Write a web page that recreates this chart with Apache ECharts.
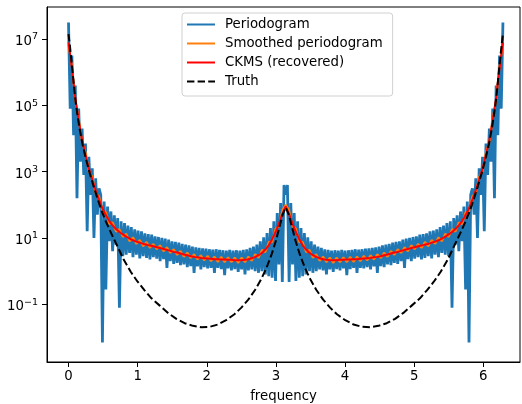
<!DOCTYPE html>
<html>
<head>
<meta charset="utf-8">
<script src="https://cdn.jsdelivr.net/npm/echarts@6/dist/echarts.min.js"></script>
<style>
  html, body { margin: 0; padding: 0; background: #fff; }
  #chart { width: 522px; height: 404px; }
</style>
</head>
<body>
<div id="chart"></div>
<script>
// all y values are log10 of the power
var periodogramLog10 = [
  7.50, 4.90, 6.50, 4.10, 5.60, 2.20, 4.90, 3.30, 4.30, 2.90,
  3.85, 1.20, 3.45, 2.30, 3.10, 1.00, 2.80, 1.70, 2.50, 2.30,
  -2.15, 2.10, -0.55, 1.95, 0.90, 1.80, 0.60, 1.68, 0.80, 1.60,
  -1.10, 1.50, 0.45, 1.45, 0.50, 1.37, 0.55, 1.33, 0.42, 1.26,
  0.50, 1.22, 0.38, 1.20, 0.45, 1.14, 0.40, 1.12, 0.35, 1.10,
  0.42, 1.05, 0.38, 1.03, 0.30, 1.00, 0.36, 0.98, 0.10, 0.95,
  0.30, 0.90, 0.22, 0.88, 0.25, 0.86, 0.18, 0.82, 0.20, 0.80,
  0.12, 0.78, 0.15, 0.74, -0.05, 0.72, 0.14, 0.70, 0.05, 0.69,
  0.12, 0.68, 0.08, 0.66, 0.10, 0.65, -0.05, 0.66, 0.10, 0.64,
  0.06, 0.63, -0.12, 0.62, 0.08, 0.64, 0.02, 0.62, 0.06, 0.63,
  -0.02, 0.62, 0.05, 0.64, -0.10, 0.66, 0.02, 0.70, 0.05, 0.74,
  0.00, 0.80, -0.05, 0.90, 0.00, 1.02, -0.10, 1.15, -0.15, 1.30,
  -0.20, 1.50, -0.30, 1.75, 0.20, 2.05, -0.33, 2.60, 2.30,
  2.60, -0.33, 2.05, 0.20, 1.75, -0.30, 1.50, -0.20,
  1.30, -0.15, 1.15, -0.10, 1.02, 0.00, 0.90, -0.05, 0.80, 0.00,
  0.74, 0.05, 0.70, 0.02, 0.66, -0.10, 0.64, 0.05, 0.62, -0.02,
  0.63, 0.06, 0.62, 0.02, 0.64, 0.08, 0.62, -0.12, 0.63, 0.06,
  0.64, 0.10, 0.66, -0.05, 0.65, 0.10, 0.66, 0.08, 0.68, 0.12,
  0.69, 0.05, 0.70, 0.14, 0.72, -0.05, 0.74, 0.15, 0.78, 0.12,
  0.80, 0.20, 0.82, 0.18, 0.86, 0.25, 0.88, 0.22, 0.90, 0.30,
  0.95, 0.10, 0.98, 0.36, 1.00, 0.30, 1.03, 0.38, 1.05, 0.42,
  1.10, 0.35, 1.12, 0.40, 1.14, 0.45, 1.20, 0.38, 1.22, 0.50,
  1.26, 0.42, 1.33, 0.55, 1.37, 0.50, 1.45, 0.45, 1.50, -1.10,
  1.60, 0.80, 1.68, 0.60, 1.80, 0.90, 1.95, -0.55, 2.10, -2.15,
  2.30, 2.50, 1.70, 2.80, 1.00, 3.10, 2.30, 3.45, 1.20, 3.85,
  2.90, 4.30, 3.30, 4.90, 2.20, 5.60, 4.10, 6.50, 4.90, 7.50
];

var smoothedLog10 = [
  6.80, 6.20, 5.15, 4.62, 3.88, 3.60, 3.00, 2.85, 2.35, 2.26,
  1.80, 1.78, 1.42, 1.47, 1.19, 1.27, 1.03, 1.13, 0.90, 1.02,
  0.82, 0.94, 0.75, 0.88, 0.70, 0.82, 0.66, 0.78, 0.60, 0.72,
  0.55, 0.66, 0.49, 0.61, 0.43, 0.56, 0.39, 0.51, 0.35, 0.48,
  0.32, 0.46, 0.30, 0.44, 0.28, 0.43, 0.27, 0.42, 0.27, 0.41,
  0.25, 0.41, 0.27, 0.44, 0.31, 0.51, 0.40, 0.64, 0.57, 0.88,
  0.88, 1.28, 1.35, 1.84, 2.00,
  1.84, 1.35, 1.28, 0.88, 0.88, 0.57, 0.64, 0.40, 0.51, 0.31,
  0.44, 0.27, 0.41, 0.25, 0.41, 0.27, 0.42, 0.27, 0.43, 0.28,
  0.44, 0.30, 0.46, 0.32, 0.48, 0.35, 0.51, 0.39, 0.56, 0.43,
  0.61, 0.49, 0.66, 0.55, 0.72, 0.60, 0.78, 0.66, 0.82, 0.70,
  0.88, 0.75, 0.94, 0.82, 1.02, 0.90, 1.13, 1.03, 1.27, 1.19,
  1.47, 1.42, 1.78, 1.80, 2.26, 2.35, 2.85, 3.00, 3.60, 3.88,
  4.62, 5.15, 6.20, 6.80
];

var ckmsLog10 = [
  6.90, 6.12, 5.24, 4.54, 3.95, 3.50, 3.09, 2.76, 2.44, 2.16,
  1.89, 1.69, 1.51, 1.38, 1.27, 1.18, 1.11, 1.04, 0.98, 0.93,
  0.89, 0.86, 0.82, 0.80, 0.77, 0.75, 0.72, 0.70, 0.67, 0.64,
  0.61, 0.58, 0.56, 0.53, 0.50, 0.48, 0.45, 0.43, 0.42, 0.40,
  0.39, 0.38, 0.37, 0.36, 0.36, 0.35, 0.35, 0.34, 0.34, 0.33,
  0.33, 0.33, 0.34, 0.36, 0.39, 0.43, 0.48, 0.55, 0.65, 0.78,
  0.96, 1.18, 1.43, 1.72, 1.95,
  1.72, 1.43, 1.18, 0.96, 0.78, 0.65, 0.55, 0.48, 0.43, 0.39,
  0.36, 0.34, 0.33, 0.33, 0.33, 0.34, 0.34, 0.35, 0.35, 0.36,
  0.36, 0.37, 0.38, 0.39, 0.40, 0.42, 0.43, 0.45, 0.48, 0.50,
  0.53, 0.56, 0.58, 0.61, 0.64, 0.67, 0.70, 0.72, 0.75, 0.77,
  0.80, 0.82, 0.86, 0.89, 0.93, 0.98, 1.04, 1.11, 1.18, 1.27,
  1.38, 1.51, 1.69, 1.89, 2.16, 2.44, 2.76, 3.09, 3.50, 3.95,
  4.54, 5.24, 6.12, 6.90
];

var truthFreq = [
  0.00, 0.02, 0.04, 0.06, 0.08, 0.10, 0.13, 0.16, 0.20, 0.25,
  0.30, 0.36, 0.42, 0.48, 0.54, 0.60, 0.70, 0.80, 0.90, 1.00,
  1.10, 1.20, 1.32, 1.44, 1.56, 1.68, 1.80, 1.92, 2.04, 2.16,
  2.28, 2.40, 2.50, 2.60, 2.70, 2.78, 2.86, 2.94, 3.00, 3.06,
  3.10, 3.1416,
  3.183, 3.223, 3.283, 3.343, 3.423, 3.503, 3.583, 3.683, 3.783, 3.883,
  4.003, 4.123, 4.243, 4.363, 4.483, 4.603, 4.723, 4.843, 4.963, 5.083,
  5.183, 5.283, 5.383, 5.483, 5.583, 5.683, 5.743, 5.803, 5.863, 5.923,
  5.983, 6.033, 6.083, 6.123, 6.153, 6.183, 6.203, 6.223, 6.243, 6.263,
  6.2832
];
var truthLog10 = [
  7.15, 6.80, 6.40, 6.00, 5.55, 5.15, 4.70, 4.30, 3.85, 3.40,
  3.00, 2.58, 2.18, 1.81, 1.50, 1.22, 0.78, 0.34, -0.02, -0.32,
  -0.58, -0.82, -1.04, -1.26, -1.44, -1.57, -1.65, -1.69, -1.68, -1.61,
  -1.48, -1.30, -1.10, -0.86, -0.56, -0.27, 0.08, 0.52, 0.92, 1.40,
  1.72, 1.92,
  1.72, 1.40, 0.92, 0.52, 0.08, -0.27, -0.56, -0.86, -1.10, -1.30,
  -1.48, -1.61, -1.68, -1.69, -1.65, -1.57, -1.44, -1.26, -1.04, -0.82,
  -0.58, -0.32, -0.02, 0.34, 0.78, 1.22, 1.50, 1.81, 2.18, 2.58,
  3.00, 3.40, 3.85, 4.30, 4.70, 5.15, 5.55, 6.00, 6.40, 6.80,
  7.15
];

var xTicks = [0, 1, 2, 3, 4, 5, 6];
var yTickExponents = [-1, 1, 3, 5, 7];

// plotted y = log10(power) + LOG_SHIFT, labels undo the shift
var LOG_SHIFT = 1;

function fftGrid(n) {
  var out = [];
  for (var k = 0; k < n; k++) out.push(k * 2 * Math.PI / (n - 1));
  return out;
}

function pairs(xs, ys) {
  return ys.map(function (y, i) { return [xs[i], y + LOG_SHIFT]; });
}

var yTickValues = yTickExponents.map(function (e) { return e + LOG_SHIFT; });

var font = 'DejaVu Sans';
var chart = echarts.init(document.getElementById('chart'));

chart.setOption({
  animation: false,
  textStyle: { fontFamily: font },
  grid: {
    left: 47, right: 2, top: 7, bottom: 42,
    outerBoundsMode: 'none',
    show: true, borderColor: '#000', borderWidth: 1
  },
  legend: {
    orient: 'vertical',
    left: 182, top: 13,
    itemWidth: 28, itemHeight: 14, itemGap: 6,
    padding: [5, 10, 8, 4],
    borderColor: '#d0d0d0', borderWidth: 1, borderRadius: 3,
    backgroundColor: 'rgba(255,255,255,0.8)',
    itemStyle: { opacity: 0 },
    textStyle: { fontFamily: font, fontSize: 13.3, color: '#000', padding: [0, 0, 0, 5] },
    data: ['Periodogram', 'Smoothed periodogram', 'CKMS (recovered)', 'Truth']
  },
  xAxis: {
    type: 'value',
    min: -0.311, max: 6.53,
    name: 'frequency', nameLocation: 'middle', nameGap: 28,
    nameTextStyle: { fontFamily: font, fontSize: 13.3, color: '#000' },
    splitLine: { show: false },
    axisLine: { onZero: false, lineStyle: { color: '#000', width: 1 } },
    axisTick: { length: 5, customValues: xTicks, lineStyle: { color: '#000' } },
    axisLabel: {
      fontFamily: font, fontSize: 13.3, color: '#000', margin: 8,
      customValues: xTicks,
      formatter: function (v) { return String(Math.round(v)); }
    }
  },
  yAxis: {
    type: 'value',
    min: -2.74 + LOG_SHIFT, max: 7.965 + LOG_SHIFT,
    splitLine: { show: false },
    axisLine: { show: true, onZero: false, lineStyle: { color: '#000', width: 1 } },
    axisTick: { show: true, length: 5, customValues: yTickValues, lineStyle: { color: '#000' } },
    axisLabel: {
      fontFamily: font, color: '#000', margin: 9,
      customValues: yTickValues,
      formatter: function (v) {
        var e = String(Math.round(v) - LOG_SHIFT).replace('-', '\u2212');
        return '{b|10}{s|' + e + '}';
      },
      rich: {
        b: { fontFamily: font, fontSize: 13.3, color: '#000', lineHeight: 14, padding: [5, 0, 0, 0] },
        s: { fontFamily: font, fontSize: 9.5, color: '#000', lineHeight: 10, verticalAlign: 'top' }
      }
    }
  },
  series: [
    {
      name: 'Periodogram', type: 'line', symbol: 'none',
      color: '#1f77b4', lineStyle: { width: 2.8 },
      data: pairs(fftGrid(periodogramLog10.length), periodogramLog10)
    },
    {
      name: 'Smoothed periodogram', type: 'line', symbol: 'none',
      color: '#ff7f0e', lineStyle: { width: 2 },
      data: pairs(fftGrid(smoothedLog10.length), smoothedLog10)
    },
    {
      name: 'CKMS (recovered)', type: 'line', symbol: 'none',
      color: '#ff0000', lineStyle: { width: 2 },
      data: pairs(fftGrid(ckmsLog10.length), ckmsLog10)
    },
    {
      name: 'Truth', type: 'line', symbol: 'none',
      color: '#000000', lineStyle: { width: 2, type: [7.4, 3.2] },
      data: pairs(truthFreq, truthLog10)
    }
  ]
});
</script>
</body>
</html>
